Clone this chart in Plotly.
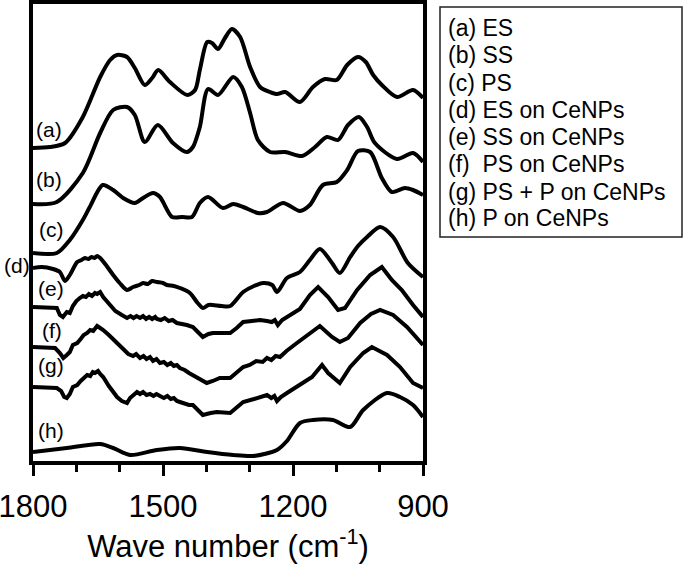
import plotly.graph_objects as go

# ---------------- data (wavenumber in cm-1, offset absorbance in a.u.) ----------------
wn_a = [1800, 1761, 1726, 1685, 1645, 1622, 1606, 1583, 1565, 1542, 1525, 1511, 1484, 1444, 1426, 1415,
        1398, 1387, 1373, 1357, 1341, 1322, 1299, 1276, 1253, 1237, 1218, 1184, 1154, 1126, 1099, 1075,
        1050, 1032, 1015, 995, 960, 923, 900]
abs_a = [313, 314, 318, 344, 384, 401, 406, 404, 393, 376, 383, 391, 379, 366, 371, 391,
         419, 418, 412, 423, 432, 424, 394, 374, 369, 367, 369, 359, 374, 382, 381, 396,
         404, 399, 386, 376, 364, 371, 363]

wn_b = [1800, 1745, 1685, 1645, 1615, 1583, 1565, 1542, 1512, 1477, 1445, 1431, 1415, 1396, 1373, 1338,
        1318, 1299, 1281, 1253, 1218, 1179, 1149, 1122, 1096, 1073, 1048, 1029, 1011, 960, 923, 900]
abs_b = [257, 259, 288, 328, 351, 354, 346, 319, 336, 318, 309, 314, 334, 372, 366, 384,
         374, 348, 321, 309, 309, 305, 314, 324, 321, 336, 344, 334, 318, 302, 308, 299]

wn_c = [1800, 1745, 1715, 1685, 1669, 1639, 1615, 1592, 1565, 1546, 1523, 1507, 1479, 1456, 1433, 1415,
        1396, 1362, 1338, 1315, 1281, 1260, 1223, 1184, 1161, 1131, 1099, 1075, 1050, 1022, 995, 972,
        942, 923, 900]
abs_c = [208, 208, 221, 241, 254, 276, 271, 263, 258, 263, 268, 264, 244, 244, 244, 258,
         264, 253, 257, 254, 248, 249, 258, 250, 256, 276, 279, 291, 310, 309, 283, 269,
         273, 271, 266]

wn_d = [1800, 1780, 1754, 1738, 1726, 1715, 1698, 1688, 1680, 1672, 1665, 1658, 1652, 1645, 1630, 1615,
        1600, 1583, 1569, 1555, 1546, 1535, 1525, 1514, 1500, 1491, 1475, 1461, 1438, 1420, 1408, 1395,
        1385, 1365, 1345, 1315, 1290, 1269, 1248, 1237, 1214, 1184, 1161, 1138, 1110, 1092, 1068, 1050,
        1029, 999, 969, 935, 900]
abs_d = [193, 194, 192, 189, 180, 186, 199, 201, 203, 202, 204, 203, 205, 203, 195, 186,
         178, 171, 174, 176, 178, 177, 180, 179, 178, 176, 175, 173, 168, 158, 153, 156,
         156, 155, 155, 169, 175, 178, 176, 169, 183, 189, 201, 212, 198, 188, 204, 215,
         224, 234, 224, 198, 184]

wn_e = [1800, 1770, 1745, 1738, 1731, 1722, 1715, 1708, 1700, 1692, 1685, 1678, 1671, 1664, 1657, 1652,
        1645, 1638, 1625, 1610, 1595, 1583, 1575, 1568, 1561, 1553, 1546, 1539, 1532, 1525, 1518, 1514,
        1505, 1496, 1487, 1478, 1468, 1455, 1445, 1431, 1420, 1408, 1395, 1385, 1365, 1345, 1330, 1315,
        1295, 1276, 1260, 1249, 1242, 1235, 1225, 1214, 1200, 1184, 1161, 1142, 1119, 1096, 1080, 1052,
        1022, 995, 972, 949, 923, 900]
abs_e = [154, 154, 153, 146, 144, 149, 148, 155, 160, 163, 165, 164, 167, 165, 168, 167,
         169, 164, 157, 150, 146, 143, 145, 143, 145, 143, 145, 142, 144, 142, 144, 142,
         141, 143, 140, 141, 138, 137, 136, 134, 129, 124, 127, 128, 128, 128, 133, 139,
         140, 141, 140, 139, 141, 136, 141, 144, 147, 152, 166, 174, 164, 151, 153, 171,
         186, 194, 181, 171, 156, 144]

wn_f = [1800, 1770, 1749, 1738, 1730, 1722, 1715, 1708, 1698, 1690, 1683, 1675, 1668, 1661, 1652, 1645,
        1638, 1625, 1606, 1590, 1580, 1569, 1562, 1553, 1545, 1538, 1530, 1523, 1515, 1507, 1498, 1490,
        1482, 1475, 1468, 1461, 1450, 1440, 1422, 1410, 1399, 1385, 1369, 1345, 1330, 1315, 1300, 1285,
        1270, 1260, 1250, 1240, 1230, 1215, 1191, 1161, 1138, 1110, 1092, 1073, 1045, 1020, 999, 969,
        937, 900]
abs_f = [114, 114, 113, 108, 103, 106, 109, 116, 118, 122, 126, 128, 131, 130, 135, 133,
         131, 126, 118, 111, 107, 105, 107, 103, 105, 102, 104, 100, 102, 98, 99, 96,
         98, 95, 96, 93, 91, 88, 84, 81, 78, 80, 83, 83, 88, 94, 96, 100,
         99, 103, 101, 105, 104, 110, 118, 128, 135, 124, 119, 123, 138, 147, 151, 146,
         134, 116]

wn_g = [1800, 1770, 1745, 1735, 1728, 1722, 1715, 1708, 1698, 1690, 1683, 1675, 1668, 1662, 1657, 1650,
        1645, 1638, 1625, 1606, 1595, 1583, 1576, 1569, 1560, 1553, 1546, 1538, 1530, 1522, 1515, 1507,
        1498, 1490, 1482, 1475, 1468, 1461, 1450, 1440, 1431, 1420, 1408, 1390, 1376, 1345, 1315, 1290,
        1270, 1260, 1250, 1243, 1237, 1228, 1214, 1184, 1156, 1133, 1119, 1092, 1068, 1038, 1018, 983,
        953, 923, 900]
abs_g = [74, 74, 73, 70, 64, 63, 67, 74, 76, 80, 83, 86, 85, 89, 88, 90,
         87, 84, 75, 64, 60, 58, 63, 66, 69, 67, 69, 66, 67, 65, 67, 65,
         63, 65, 62, 63, 60, 59, 57, 56, 56, 51, 46, 48, 49, 48, 59, 62,
         65, 66, 63, 65, 60, 64, 68, 76, 84, 96, 88, 78, 94, 108, 114, 106,
         94, 78, 73]

wn_h = [1800, 1722, 1645, 1615, 1576, 1514, 1461, 1398, 1338, 1292, 1237, 1214, 1184, 1154, 1108, 1068,
        1038, 983, 953, 923, 900]
abs_h = [9, 13, 17, 13, 6, 11, 13, 9, 6, 5, 11, 20, 38, 41, 41, 34,
         51, 68, 64, 56, 44]

curve_labels = ["(a)", "(b)", "(c)", "(d)", "(e)", "(f)", "(g)", "(h)"]
legend_lines = ["(a) ES", "(b) SS", "(c) PS", "(d) ES on CeNPs", "(e) SS on CeNPs",
                "(f)\u00a0 PS on CeNPs", "(g) PS + P on CeNPs", "(h) P on CeNPs"]
x_ticks = [1800, 1500, 1200, 900]

# ---------------- figure ----------------
FONT = "Liberation Sans, Arial, Helvetica, sans-serif"
W, H = 685, 564
L, R, T, B = 33, 262, 4, 103
PW, PH = W - L - R, H - T - B


def px(x):
    return (x - L) / PW


def py(y):
    return (H - B - y) / PH


series = [(wn_a, abs_a, "spline"), (wn_b, abs_b, "spline"), (wn_c, abs_c, "spline"),
          (wn_d, abs_d, "spline"), (wn_e, abs_e, "linear"), (wn_f, abs_f, "linear"),
          (wn_g, abs_g, "linear"), (wn_h, abs_h, "spline")]

fig = go.Figure()
for xs, ys, shp in series:
    line = dict(color="black", width=4, shape=shp)
    if shp == "spline":
        line["smoothing"] = 0.8
    fig.add_trace(go.Scatter(x=xs, y=ys, mode="lines", line=line,
                             showlegend=False, hoverinfo="skip"))

annotations = []
label_pos = [(49, 130), (49, 179), (51, 229), (17, 265), (51, 288), (52, 330), (51, 365), (51, 430)]
for txt, (lx, ly) in zip(curve_labels, label_pos):
    annotations.append(dict(text=txt, x=px(lx), y=py(ly), xref="paper", yref="paper",
                            showarrow=False, xanchor="center", yanchor="middle",
                            font=dict(family=FONT, size=21, color="black")))

leg_y = [28, 55, 83, 110, 137, 164, 192, 218]
for txt, ly in zip(legend_lines, leg_y):
    annotations.append(dict(text=txt, x=px(446), y=py(ly), xref="paper", yref="paper",
                            showarrow=False, xanchor="left", yanchor="middle",
                            font=dict(family=FONT, size=23, color="black")))

shapes = [dict(type="rect", xref="paper", yref="paper",
               x0=px(440), x1=px(682), y0=py(237), y1=py(7),
               line=dict(color="#222222", width=1.5), fillcolor="rgba(0,0,0,0)")]

fig.update_layout(
    width=W, height=H,
    margin=dict(l=L, r=R, t=T, b=B, pad=0, autoexpand=False),
    paper_bgcolor="white", plot_bgcolor="white",
    font=dict(family=FONT, color="black"),
    annotations=annotations, shapes=shapes,
    xaxis=dict(range=[1800, 900], tickmode="array", tickvals=x_ticks,
               ticktext=[str(v) for v in x_ticks], automargin=False,
               ticklabeloverflow="allow",
               ticks="outside", ticklen=11, tickwidth=3, tickcolor="black",
               ticklabelstandoff=4,
               minor=dict(tickmode="linear", tick0=900, dtick=100, ticks="outside",
                          ticklen=7, tickwidth=3, tickcolor="black"),
               tickfont=dict(family=FONT, size=31, color="black"),
               showline=True, linewidth=4, linecolor="black", mirror=True,
               showgrid=False, zeroline=False,
               title=dict(text="Wave number (cm<sup>-1</sup>)",
                          font=dict(family=FONT, size=31, color="black"), standoff=6)),
    yaxis=dict(range=[0, PH], showticklabels=False, ticks="", automargin=False,
               showline=True, linewidth=4, linecolor="black", mirror=True,
               showgrid=False, zeroline=False),
)

fig.write_html("out.html", config={"displayModeBar": False},
               post_script="document.body.style.margin='0';")
